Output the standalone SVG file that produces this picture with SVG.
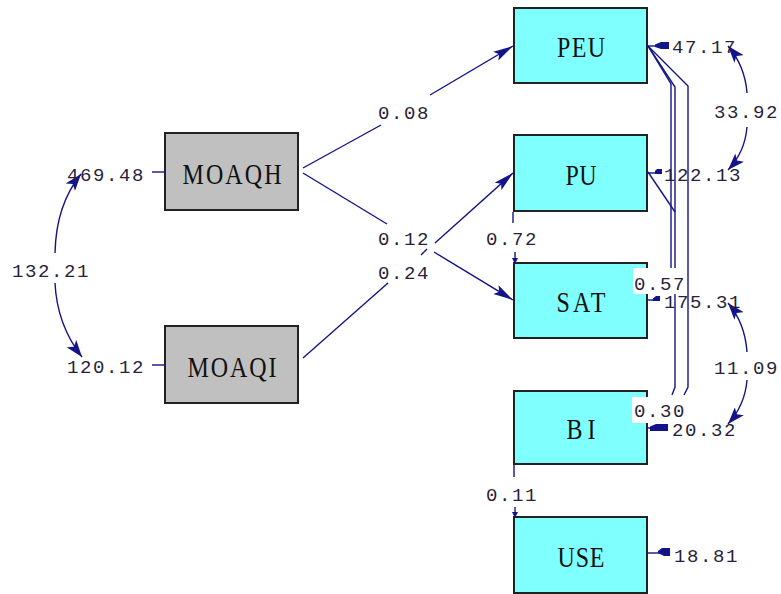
<svg xmlns="http://www.w3.org/2000/svg" width="781" height="594" viewBox="0 0 781 594">
<defs>
<style>
.box{stroke:#222;stroke-width:2}
.obs{fill:#80ffff}
.exo{fill:#c0c0c0}
.nl{font-family:"Liberation Serif",serif;font-size:24px;fill:#111;text-anchor:middle}
.ln{fill:none;stroke:#14148a;stroke-width:1.4}
.num{font-family:"Liberation Mono",monospace;font-size:19px;letter-spacing:1.6px;fill:#2a1f3a}
.ea{fill:#14148a}
</style>
<marker id="ah" markerUnits="userSpaceOnUse" markerWidth="20" markerHeight="12" refX="20" refY="6" orient="auto">
<path d="M0,1 L20,6 L0,11 L4,6 Z" fill="#14148a"/>
</marker>
<marker id="ac" markerUnits="userSpaceOnUse" markerWidth="17" markerHeight="12" refX="17" refY="6" orient="auto">
<path d="M0,0 L17,6 L0,12 L4,6 Z" fill="#14148a"/>
</marker>
<marker id="as" markerUnits="userSpaceOnUse" markerWidth="6" markerHeight="6" refX="5" refY="3" orient="auto">
<path d="M0,0 L6,3 L0,6 Z" fill="#14148a"/>
</marker>
</defs>
<rect width="781" height="594" fill="#fff"/>

<g id="MOAQH"><rect class="box exo" x="165" y="133" width="133" height="77"/><text class="nl" transform="translate(232,184) scale(1,1.25)" textLength="99" lengthAdjust="spacing">MOAQH</text></g>
<g id="MOAQI"><rect class="box exo" x="165" y="326" width="133" height="77"/><text class="nl" transform="translate(232,377) scale(1,1.25)" textLength="89" lengthAdjust="spacing">MOAQI</text></g>
<g id="PEU"><rect class="box obs" x="514" y="8" width="133" height="75"/><text class="nl" transform="translate(581,57) scale(1,1.25)" textLength="48" lengthAdjust="spacing">PEU</text></g>
<g id="PU"><rect class="box obs" x="514" y="135" width="133" height="76"/><text class="nl" transform="translate(581,185) scale(1,1.25)" textLength="31" lengthAdjust="spacing">PU</text></g>
<g id="SAT"><rect class="box obs" x="514" y="263" width="133" height="75"/><text class="nl" transform="translate(581,312) scale(1,1.25)" textLength="49" lengthAdjust="spacing">SAT</text></g>
<g id="BI"><rect class="box obs" x="514" y="391" width="133" height="73"/><text class="nl" transform="translate(581,439) scale(1,1.25)" textLength="29" lengthAdjust="spacing">BI</text></g>
<g id="USE"><rect class="box obs" x="514" y="517" width="133" height="76"/><text class="nl" transform="translate(581,567) scale(1,1.25)" textLength="47" lengthAdjust="spacing">USE</text></g>

<g id="connectors">
<path class="ln" d="M303,168 L381,125"/>
<path class="ln" d="M430,95 L513,46" marker-end="url(#ah)"/>
<path class="ln" d="M303,173 L387,224"/>
<path class="ln" d="M434,252 L513,300" marker-end="url(#ah)"/>
<path class="ln" d="M303,358 L388,283"/>
<path class="ln" d="M421,255 L427,249"/>
<path class="ln" d="M435,243 L513,173" marker-end="url(#ah)"/>
<path class="ln" d="M513,212 L513,223"/>
<path class="ln" d="M515,252 L515,263" marker-end="url(#as)"/>
<path class="ln" d="M514,465 L514,477"/>
<path class="ln" d="M515,507 L515,517" marker-end="url(#as)"/>
<path class="ln" d="M648,46 L671,84 L671,268"/>
<path class="ln" d="M648,46 L675,87 L675,387 L672,395"/>
<path class="ln" d="M648,172 L675,212"/>
<path class="ln" d="M648,46 L688,86 L688,387 L684,395"/>
<path class="ln" d="M152,172 H165"/>
<path class="ln" d="M152,365 H165"/>
<path class="ln" d="M647,46 H668"/>
<path class="ea" d="M655,44.5 L661,42 L669,42 L669,49 L661,49 L655,47 Z"/>
<path class="ln" d="M647,173 H660"/>
<path class="ea" d="M655,171 L657,169 L662,169 L662,174 L655,174 Z"/>
<path class="ln" d="M647,300 H660"/>
<path class="ea" d="M653,298.5 L656,296 L660,296 L660,301 L653,301 Z"/>
<path class="ln" d="M647,428 H668"/>
<path class="ea" d="M650,426.5 L656,424 L668,424 L668,431 L650,431 Z"/>
<path class="ln" d="M648,553 H670"/>
<path class="ea" d="M658,551 L662,548 L670,548 L670,556 L664,556 L658,553 Z"/>
<path class="ln" d="M55,253 Q56,205 81,174" marker-end="url(#ac)"/>
<path class="ln" d="M55,283 Q57,325 82,357" marker-end="url(#ac)"/>
<path class="ln" d="M747,93 Q745,66 728,46" marker-end="url(#ac)"/>
<path class="ln" d="M747,127 Q745,152 728,170" marker-end="url(#ac)"/>
<path class="ln" d="M747,352 Q745,323 728,303" marker-end="url(#ac)"/>
<path class="ln" d="M747,380 Q745,405 728,424" marker-end="url(#ac)"/>
</g>

<g id="labels">
<text class="num" x="378" y="119">0.08</text>
<text class="num" x="378" y="245">0.12</text>
<text class="num" x="378" y="279">0.24</text>
<text class="num" x="486" y="245">0.72</text>
<text class="num" x="486" y="501">0.11</text>
<rect x="633" y="268" width="52" height="26" fill="#fff"/>
<text class="num" x="634" y="290">0.57</text>
<rect x="632" y="397" width="58" height="26" fill="#fff"/>
<text class="num" x="634" y="417">0.30</text>
<text class="num" x="672" y="53">47.17</text>
<text class="num" x="664" y="181">122.13</text>
<text class="num" x="664" y="308">175.31</text>
<text class="num" x="672" y="436">20.32</text>
<text class="num" x="674" y="562">18.81</text>
<text class="num" x="67" y="181">469.48</text>
<text class="num" x="67" y="373">120.12</text>
<text class="num" x="12" y="277">132.21</text>
<text class="num" x="714" y="118">33.92</text>
<text class="num" x="714" y="374">11.09</text>
</g>
</svg>
